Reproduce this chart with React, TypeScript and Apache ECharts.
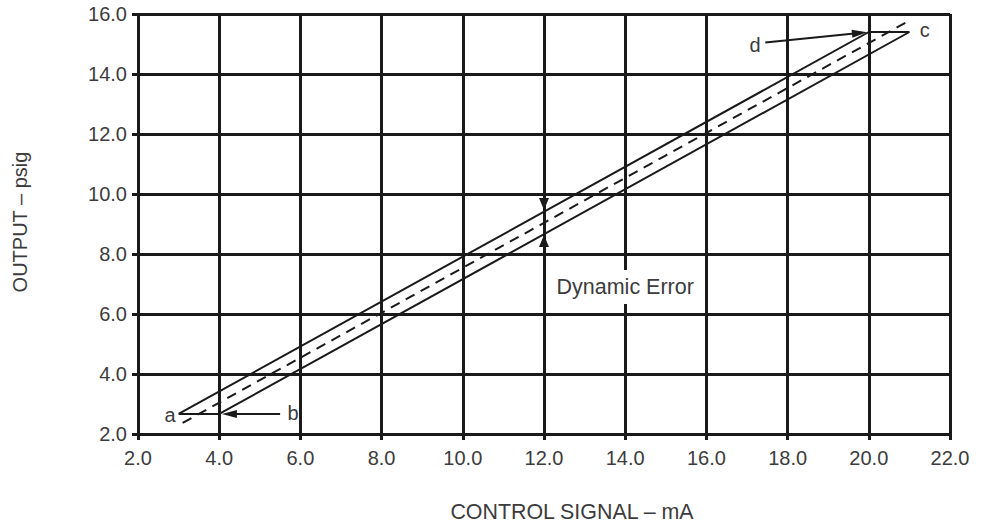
import React, { useEffect, useRef } from 'react';
import * as echarts from 'echarts';

// Hysteresis loop: a -> (upper) -> c -> (lower) -> back to a
const loopX = [3.0, 20.0, 21.0, 4.0, 3.0];
const loopY = [2.67, 15.4, 15.4, 2.67, 2.67];

// Dashed centre line
const midX = [3.1, 21.05];
const midY = [2.37, 15.82];

// Point labels
const labelNames = ['a', 'b', 'c', 'd'];
const labelX = [2.79, 5.82, 21.38, 17.2];
const labelY = [2.63, 2.7, 15.47, 14.97];

// Pointer arrows (from -> to) for b and d
const pointerFrom = [[17.45, 15.05], [5.5, 2.67]];
const pointerTo = [[19.77, 15.37], [4.25, 2.67]];

// Dynamic error arrows
const errFrom = [[12.0, 9.95], [12.0, 8.05]];
const errTo = [[12.0, 9.67], [12.0, 8.43]];

const noteText = 'Dynamic Error';
const noteX = 14.0;
const noteY = 6.9;

const xTitle = 'CONTROL SIGNAL – mA';
const yTitle = 'OUTPUT – psig';

const INK = '#1a1a1a';
const TXT = '#3c3c3c';
const FONT = '"Liberation Sans", Arial, sans-serif';

export default function App() {
  const ref = useRef<HTMLDivElement>(null);
  useEffect(() => {
    if (!ref.current) return;
    const chart = echarts.init(ref.current, undefined, { renderer: 'svg' });
    const option: any = {
      animation: false,
      backgroundColor: '#ffffff',
      textStyle: { fontFamily: FONT },
      grid: { left: 138, right: 35, top: 14, bottom: 93, containLabel: false },
      xAxis: {
        type: 'value',
        min: 2,
        max: 22,
        interval: 2,
        axisLine: { show: false },
        axisTick: { show: true, length: 6, lineStyle: { color: INK, width: 3 } },
        axisLabel: {
          margin: 14,
          color: TXT,
          fontSize: 20,
          fontFamily: FONT,
          formatter: (v: number) => v.toFixed(1),
        },
        splitLine: { show: true, lineStyle: { color: INK, width: 3 } },
      },
      yAxis: {
        type: 'value',
        min: 2,
        max: 16,
        interval: 2,
        axisLine: { show: false },
        axisTick: { show: true, length: 6, lineStyle: { color: INK, width: 3 } },
        axisLabel: {
          margin: 11,
          color: TXT,
          fontSize: 20,
          fontFamily: FONT,
          formatter: (v: number) => v.toFixed(1),
        },
        splitLine: { show: true, lineStyle: { color: INK, width: 3 } },
      },
      graphic: [
        {
          type: 'text',
          x: 572,
          y: 512,
          style: {
            text: xTitle,
            fill: TXT,
            font: `21.4px ${FONT}`,
            textAlign: 'center',
            textVerticalAlign: 'middle',
          },
        },
        {
          type: 'text',
          x: 20,
          y: 222,
          rotation: Math.PI / 2,
          style: {
            text: yTitle,
            fill: TXT,
            font: `20px ${FONT}`,
            textAlign: 'center',
            textVerticalAlign: 'middle',
          },
        },
      ],
      series: [
        {
          type: 'line',
          data: loopX.map((x, i) => [x, loopY[i]]),
          symbol: 'none',
          lineStyle: { color: INK, width: 2 },
          z: 5,
        },
        {
          type: 'line',
          data: midX.map((x, i) => [x, midY[i]]),
          symbol: 'none',
          lineStyle: { color: INK, width: 2, type: [10, 7] },
          z: 5,
        },
        {
          type: 'lines',
          coordinateSystem: 'cartesian2d',
          symbol: ['none', 'triangle'],
          symbolSize: [[8, 15], [8, 15]],
          lineStyle: { color: INK, width: 2, opacity: 1, curveness: 0 },
          data: pointerFrom.map((f, i) => ({ coords: [f, pointerTo[i]] })),
          z: 6,
        },
        {
          type: 'lines',
          coordinateSystem: 'cartesian2d',
          symbol: ['none', 'triangle'],
          symbolSize: [[10, 12], [10, 12]],
          lineStyle: { color: INK, width: 2, opacity: 1, curveness: 0 },
          data: errFrom.map((f, i) => ({ coords: [f, errTo[i]] })),
          z: 6,
        },
        {
          type: 'scatter',
          symbolSize: 0,
          itemStyle: { opacity: 1 },
          data: labelNames.map((n, i) => ({ name: n, value: [labelX[i], labelY[i]] })),
          label: {
            show: true,
            position: 'inside',
            formatter: '{b}',
            color: TXT,
            opacity: 1,
            fontSize: 20,
            fontFamily: FONT,
          },
          z: 7,
        },
        {
          type: 'scatter',
          symbol: 'rect',
          symbolSize: [144, 34],
          itemStyle: { color: '#ffffff', opacity: 1 },
          data: [{ name: noteText, value: [noteX, noteY] }],
          label: {
            show: true,
            position: 'inside',
            formatter: '{b}',
            color: TXT,
            opacity: 1,
            fontSize: 21.5,
            fontFamily: FONT,
          },
          z: 7,
        },
      ],
    };
    chart.setOption(option);
    return () => chart.dispose();
  }, []);
  return (
    <div
      ref={ref}
      style={{ position: 'fixed', left: 0, top: 0, width: 985, height: 527, background: '#fff' }}
    />
  );
}
